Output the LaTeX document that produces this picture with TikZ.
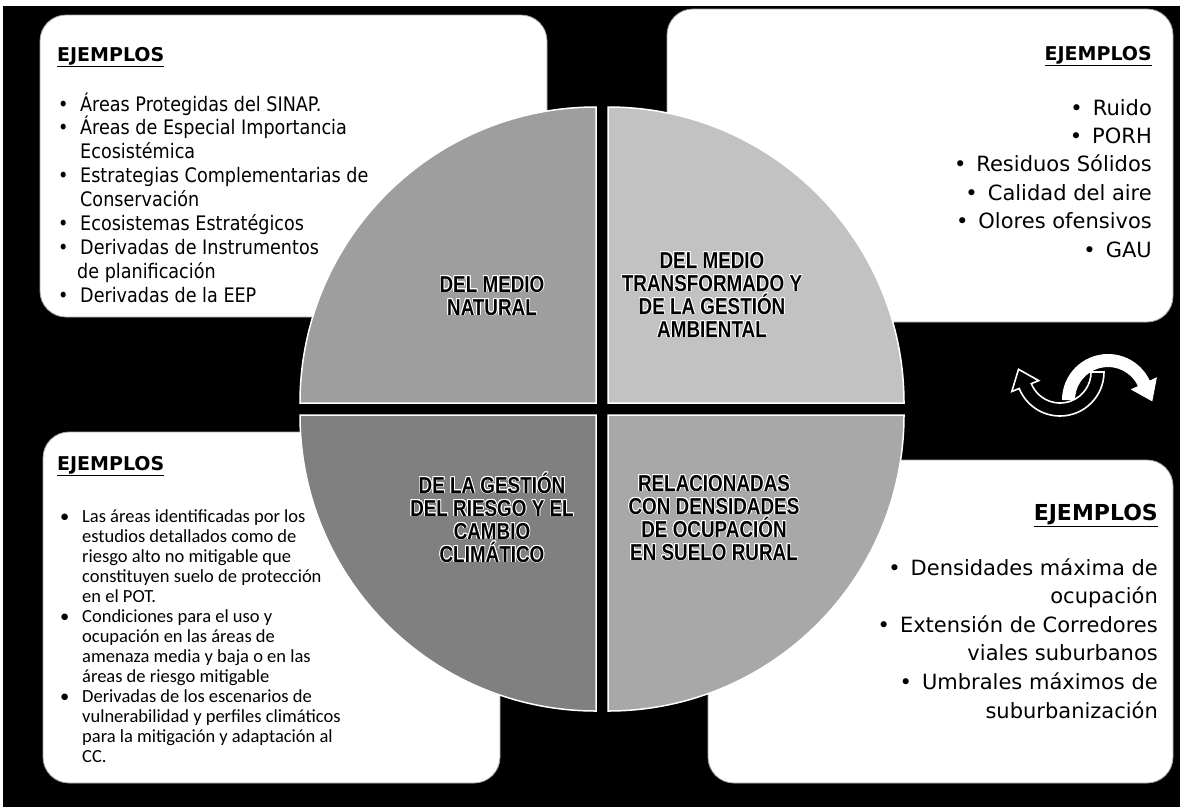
\documentclass[tikz,border=0pt]{standalone}
\usepackage{fontspec}
\usepackage[copies]{contour}
\setmainfont{DejaVu Sans}
\newfontfamily\tlfont[FakeStretch=0.88]{DejaVu Sans}
\newfontfamily\bigfont{DejaVu Sans}
\newfontfamily\clfont{Carlito}
\newfontfamily\quadfont[FakeStretch=0.82]{Liberation Sans}
\contourlength{0.8pt}

\definecolor{qTL}{gray}{0.62}
\definecolor{qTR}{gray}{0.76}
\definecolor{qBL}{gray}{0.50}
\definecolor{qBR}{gray}{0.66}

\newcommand{\bul}{\makebox[22pt][l]{•}}
\newcommand{\ind}{\hspace*{22pt}}
\newcommand{\rb}{•\hspace{10pt}}
\newcommand{\ejemplos}{\underline{\textbf{EJEMPLOS}}}
\newcommand{\halo}[1]{\contour{white}{#1}}

\tikzset{x=1pt, y=-1pt,
    card/.style={fill=white, draw=gray!70, line width=0.8pt, rounded corners=26pt},
    quad/.style={draw=white, line width=1.5pt},
    qlabel/.style={font=\quadfont\bfseries\fontsize{23}{23}\selectfont, align=center, inner sep=0pt},
    ej/.style={font=\bigfont\bfseries\fontsize{19}{22}\selectfont, inner sep=0pt},
    txtTL/.style={font=\tlfont\fontsize{20}{24}\selectfont, inner sep=0pt, anchor=base west},
    txtBL/.style={font=\clfont\fontsize{18.5}{20}\selectfont, inner sep=0pt, anchor=base west},
    txtR/.style={font=\bigfont\fontsize{21}{28}\selectfont, inner sep=0pt, anchor=base east}
}

\begin{document}
\begin{tikzpicture}
    \useasboundingbox (0,0) rectangle (1180,807);
    \fill[white] (0,0) rectangle (1180,807);
    \fill[black] (3,6) rectangle (1180,807);

    % example boxes
    \draw[card] (40,15) rectangle (547,317);
    \draw[card] (667,9) rectangle (1173,322);
    \draw[card] (43,432) rectangle (500,783);
    \draw[card] (708,460) rectangle (1173,783);

    % the four quarters
    \fill[quad, fill=qTL] (596,403) -- ++(180:296) arc[start angle=180, end angle=270, radius=296] -- cycle;
    \fill[quad, fill=qTR] (608,403) -- ++(270:296) arc[start angle=270, end angle=360, radius=296] -- cycle;
    \fill[quad, fill=qBR] (608,415) -- ++(0:296) arc[start angle=0, end angle=90, radius=296] -- cycle;
    \fill[quad, fill=qBL] (596,415) -- ++(90:296) arc[start angle=90, end angle=180, radius=296] -- cycle;

    \node[qlabel] (natural) at (492,296) {\halo{DEL MEDIO}\\\halo{NATURAL}};
    \node[qlabel] (transformado) at (712,295) {\halo{DEL MEDIO}\\\halo{TRANSFORMADO Y}\\\halo{DE LA GESTIÓN}\\\halo{AMBIENTAL}};
    \node[qlabel] (riesgo) at (492,518) {\halo{DE LA GESTIÓN}\\\halo{DEL RIESGO Y EL}\\\halo{CAMBIO}\\\halo{CLIMÁTICO}};
    \node[qlabel] (densidades) at (714,518) {\halo{RELACIONADAS}\\\halo{CON DENSIDADES}\\\halo{DE OCUPACIÓN}\\\halo{EN SUELO RURAL}};

    % top left
    \node[ej, anchor=base west] (ejTL) at (57,61) {\ejemplos};
    \foreach \t [count=\k from 0] in {{\bul Áreas Protegidas del SINAP.}, {\bul Áreas de Especial Importancia},
        {\ind Ecosistémica}, {\bul Estrategias Complementarias de}, {\ind Conservación},
        {\bul Ecosistemas Estratégicos}, {\bul Derivadas de Instrumentos},
        {\hspace*{19pt}de planificación}, {\bul Derivadas de la EEP}}
        \node[txtTL] (tl\k) at (58,111+23.9*\k) {\t};

    % top right
    \node[ej, anchor=base east] (ejTR) at (1152,60) {\ejemplos};
    \foreach \t [count=\k from 0] in {Ruido, PORH, Residuos Sólidos, Calidad del aire, Olores ofensivos, GAU}
        \node[txtR] (tr\k) at (1152,115+28.4*\k) {\rb\t};

    % bottom left
    \node[ej, anchor=base west] (ejBL) at (57,470) {\ejemplos};
    \foreach \t [count=\k from 0] in {{\bul Las áreas identificadas por los}, {\ind estudios detallados como de},
        {\ind riesgo alto no mitigable que}, {\ind constituyen suelo de protección}, {\ind en el POT.},
        {\bul Condiciones para el uso y}, {\ind ocupación en las áreas de},
        {\ind amenaza media y baja o en las}, {\ind áreas de riesgo mitigable},
        {\bul Derivadas de los escenarios de}, {\ind vulnerabilidad y perfiles climáticos},
        {\ind para la mitigación y adaptación al}, {\ind CC.}}
        \node[txtBL] (bl\k) at (60,522+20*\k) {\t};

    % bottom right
    \node[ej, anchor=base east, font=\bigfont\bfseries\fontsize{22}{24}\selectfont] (ejBR) at (1158,520) {\ejemplos};
    \foreach \t [count=\k from 0] in {{\rb Densidades máxima de}, ocupación, {\rb Extensión de Corredores},
        viales suburbanos, {\rb Umbrales máximos de}, suburbanización}
        \node[txtR] (br\k) at (1158,575+28.6*\k) {\t};

    % turning arrows
    \fill[white] (1075,400) -- (1062,400) arc[start angle=180, end angle=335, radius=46]
        -- (1156.9,377.2) -- (1152.3,401.4) -- (1130.7,389.4) -- (1137.9,386.1)
        arc[start angle=335, end angle=180, radius=33] -- cycle;
    \filldraw[fill=black, draw=white, line width=1.6pt] (1091,372) -- (1104,372) arc[start angle=0, end angle=158, radius=44]
        -- (1011.8,391.5) -- (1018.5,369.3) -- (1038.7,380.6) -- (1031.3,383.6)
        arc[start angle=158, end angle=0, radius=31] -- cycle;
\end{tikzpicture}
\end{document}
